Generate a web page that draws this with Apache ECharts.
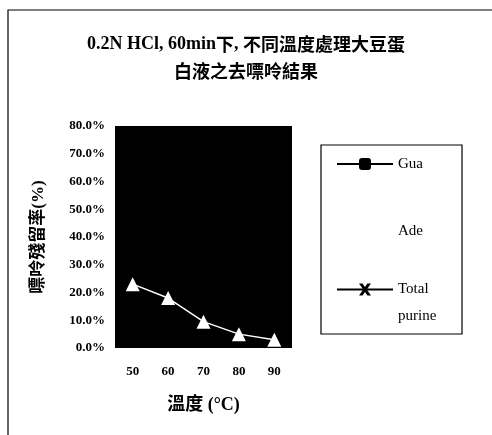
<!DOCTYPE html>
<html><head><meta charset="utf-8">
<script src="https://cdn.jsdelivr.net/npm/echarts@6/dist/echarts.min.js"></script>
<style>html,body{margin:0;padding:0;background:#fff}#c{width:492px;height:435px}</style>
</head><body><div id="c"></div>
<script>
var categories = ['50', '60', '70', '80', '90'];
var guaValues = [];
var adeValues = [0.23, 0.18, 0.095, 0.05, 0.03];
var totalValues = [];
var yTicks = [0, 0.1, 0.2, 0.3, 0.4, 0.5, 0.6, 0.7, 0.8];

var SERIF = "'Liberation Serif', 'Times New Roman', serif";
var CJK = "'Noto Sans CJK TC', sans-serif";
var MIX = "'Liberation Serif', 'Noto Sans CJK TC', serif";
var X_PATH = 'path://M0,0 L3,0 L5,3 L7,0 L10,0 L6.5,5 L10,10 L7,10 L5,7 L3,10 L0,10 L3.5,5 Z';

var chart = echarts.init(document.getElementById('c'), null, {renderer: 'canvas'});
chart.setOption({
  backgroundColor: '#fff',
  animation: false,
  title: {
    left: 'center', top: 26,
    text: '{l|0.2N HCl, 60min}{c|下}{l|, }{c|不同溫度處理大豆蛋}\n{c|白液之去嘌呤結果}',
    textStyle: {
      fontWeight: 'normal',
      rich: {
        l: {fontFamily: SERIF, fontSize: 18, fontWeight: 'bold', color: '#000', lineHeight: 27},
        c: {fontFamily: CJK, fontSize: 18, fontWeight: 'bold', color: '#000', lineHeight: 27}
      }
    }
  },
  graphic: [
    {type: 'rect', shape: {x: 8, y: 10, width: 520, height: 460}, style: {fill: null, stroke: '#000', lineWidth: 1.2}, silent: true},
    {type: 'rect', shape: {x: 321, y: 145, width: 141, height: 189}, style: {fill: '#fff', stroke: '#000', lineWidth: 1.2}, silent: true, z: -1}
  ],
  legend: [
    {data: ['Gua'], orient: 'vertical', left: 331, top: 148, itemWidth: 56, itemHeight: 15, itemGap: 0,
     textStyle: {fontFamily: SERIF, fontSize: 15, color: '#000', lineHeight: 22}},
    {data: ['Ade'], orient: 'vertical', left: 331, top: 215, itemWidth: 56, itemHeight: 15, itemGap: 0,
     textStyle: {fontFamily: SERIF, fontSize: 15, color: '#000', lineHeight: 22}},
    {data: ['Total purine'], orient: 'vertical', left: 331, top: 244, itemWidth: 56, itemHeight: 15, itemGap: 0,
     formatter: function () { return ' \nTotal\npurine'; },
     textStyle: {fontFamily: SERIF, fontSize: 15, color: '#000', lineHeight: 27}}
  ],
  grid: {left: 115, top: 126, width: 177, height: 222, show: true, backgroundColor: '#000', borderWidth: 0, containLabel: false},
  xAxis: {
    type: 'category', data: categories, boundaryGap: true,
    name: '溫度 (°C)', nameLocation: 'middle', nameGap: 48,
    nameTextStyle: {fontFamily: MIX, fontSize: 18, fontWeight: 'bold', color: '#000'},
    axisLine: {show: false}, axisTick: {show: false},
    axisLabel: {fontFamily: SERIF, fontSize: 13, fontWeight: 'bold', color: '#000', margin: 17}
  },
  yAxis: {
    type: 'value', min: 0, max: 0.8, interval: 0.1,
    name: '嘌呤殘留率(%)', nameLocation: 'middle', nameGap: 68, nameRotate: 90,
    nameTextStyle: {fontFamily: MIX, fontSize: 17, fontWeight: 'bold', color: '#000'},
    axisLine: {show: false}, axisTick: {show: false}, splitLine: {show: false},
    axisLabel: {fontFamily: SERIF, fontSize: 13, fontWeight: 'bold', color: '#000', margin: 10,
      formatter: function (v) { return (v * 100).toFixed(1) + '%'; }}
  },
  series: [
    {name: 'Gua', type: 'line', data: guaValues, symbol: 'roundRect', symbolSize: 12,
     lineStyle: {color: '#000', width: 2.5}, itemStyle: {color: '#000'}},
    {name: 'Ade', type: 'line', data: adeValues, symbol: 'triangle', symbolSize: 14,
     lineStyle: {color: '#fff', width: 1.5}, itemStyle: {color: '#fff'}},
    {name: 'Total purine', type: 'line', data: totalValues, symbol: X_PATH, symbolSize: 13,
     lineStyle: {color: '#000', width: 2.5}, itemStyle: {color: '#000'}}
  ]
});
</script></body></html>
